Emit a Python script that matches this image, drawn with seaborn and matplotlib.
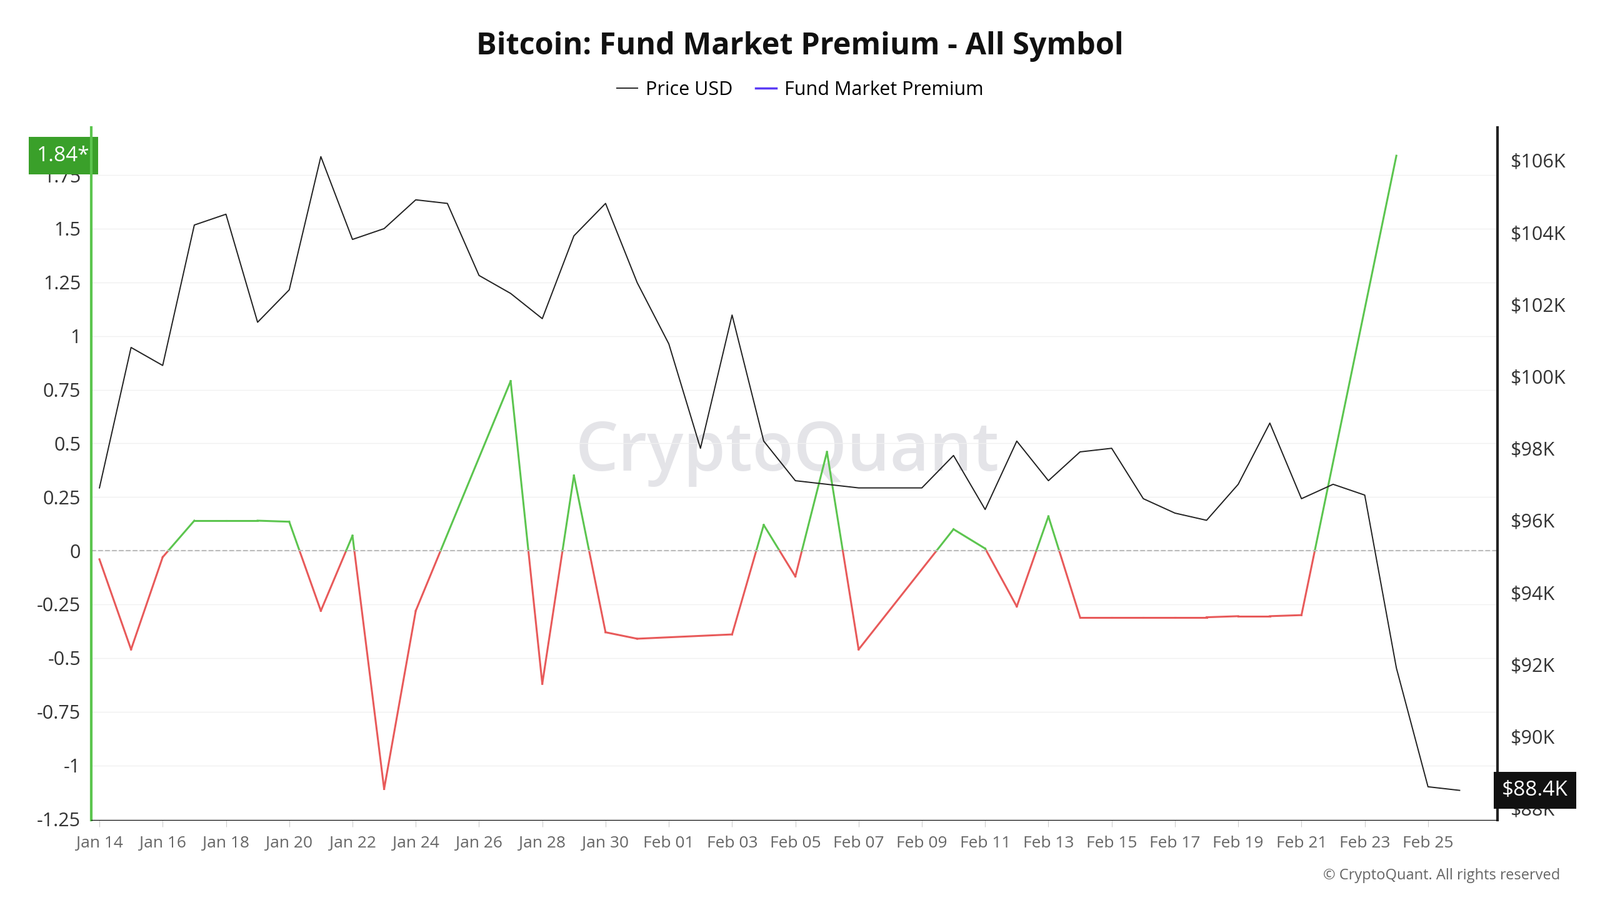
import numpy as np
import pandas as pd
import matplotlib
matplotlib.use("Agg")
import matplotlib.pyplot as plt
import matplotlib.dates as mdates
import seaborn as sns

plt.rcParams["font.family"] = "Open Sans"

dates = pd.date_range("2025-01-14", "2025-02-26", freq="D")
price_k = [96.9, 100.8, 100.3, 104.2, 104.5, 101.5, 102.4, 106.1, 103.8, 104.1,
           104.9, 104.8, 102.8, 102.3, 101.6, 103.9, 104.8, 102.6, 100.9, 98.0,
           101.7, 98.2, 97.1, 97.0, 96.9, 96.9, 96.9, 97.8, 96.3, 98.2,
           97.1, 97.9, 98.0, 96.6, 96.2, 96.0, 97.0, 98.7, 96.6, 97.0,
           96.7, 91.9, 88.6, 88.5]
nan = np.nan
premium = [-0.04, -0.46, -0.03, 0.14, 0.14, 0.14, 0.135, -0.28, 0.07, -1.11,
           -0.28, nan, nan, 0.79, -0.62, 0.35, -0.38, -0.41, nan, nan,
           -0.39, 0.12, -0.12, 0.46, -0.46, nan, nan, 0.10, 0.01, -0.26,
           0.16, -0.31, -0.31, -0.31, -0.31, -0.31, -0.305, -0.305, -0.30, nan,
           nan, 1.84, nan, nan]

df = pd.DataFrame({"date": dates, "price": price_k, "premium": premium})

fig = plt.figure(figsize=(25.6, 14.4), dpi=100)
ax = fig.add_axes([0.057, 0.089, 0.879, 0.769])
ax2 = ax.twinx()

# watermark behind everything
ax.text(0.495, 0.53, "CryptoQuant", transform=ax.transAxes, ha="center", va="center",
        fontsize=78, color="#e4e4e8", fontweight="semibold", zorder=0)

# premium: green above zero, red below
p = df.dropna(subset=["premium"])
x = mdates.date2num(p["date"])
y = p["premium"].values
for i in range(len(x) - 1):
    x0, x1, y0, y1 = x[i], x[i + 1], y[i], y[i + 1]
    if (y0 >= 0) == (y1 >= 0):
        ax.plot([x0, x1], [y0, y1], color="#5cc54f" if y0 >= 0 else "#e85a5a", lw=2.2)
    else:
        xc = x0 + (x1 - x0) * (0 - y0) / (y1 - y0)
        ax.plot([x0, xc], [y0, 0], color="#5cc54f" if y0 >= 0 else "#e85a5a", lw=2.2)
        ax.plot([xc, x1], [0, y1], color="#5cc54f" if y1 >= 0 else "#e85a5a", lw=2.2)
ax.axhline(0, color="#bbbbbb", ls="--", lw=1.5)

sns.lineplot(data=df, x="date", y="price", ax=ax2, color="#222222", lw=1.4)

x0 = mdates.date2num(pd.Timestamp("2025-01-14"))
ax.set_xlim(x0 - 0.26, x0 + 44.2)
ax.set_ylim(-1.254, 1.97)
ax2.set_ylim(87.68, 106.9)

ax.set_yticks([-1.25, -1, -0.75, -0.5, -0.25, 0, 0.25, 0.5, 0.75, 1, 1.25, 1.5, 1.75])
ax.set_yticklabels(["-1.25", "-1", "-0.75", "-0.5", "-0.25", "0", "0.25", "0.5", "0.75",
                    "1", "1.25", "1.5", "1.75"], fontsize=22, color="#333333")
ax2.set_yticks([88, 90, 92, 94, 96, 98, 100, 102, 104, 106])
ax2.set_yticklabels([f"${v}K" for v in [88, 90, 92, 94, 96, 98, 100, 102, 104, 106]],
                    fontsize=22, color="#333333")
ax2.set_ylabel("")
ax2.set_xlabel("")
tick_dates = pd.date_range("2025-01-14", "2025-02-25", freq="2D")
ax.set_xticks(mdates.date2num(tick_dates))
ax.set_xticklabels([d.strftime("%b %d") for d in tick_dates], fontsize=19, color="#666666")
ax.tick_params(axis="x", length=8, color="#cccccc", pad=10)
ax.tick_params(axis="y", length=0, pad=12)
ax2.tick_params(axis="y", length=0, pad=14)
ax.grid(axis="y", color="#f0f0f0", lw=1)
ax.set_axisbelow(True)

for a in (ax, ax2):
    a.spines["top"].set_visible(False)
    a.spines["left"].set_visible(False)
    a.spines["right"].set_visible(False)
ax.spines["bottom"].set_color("#cccccc")
ax2.spines["left"].set_visible(True)
ax2.spines["left"].set_color("#5cc54f")
ax2.spines["left"].set_linewidth(3)
ax2.spines["right"].set_visible(True)
ax2.spines["right"].set_color("#222222")
ax2.spines["right"].set_linewidth(3)

ax.text(-0.001, 1.84, "1.84*", transform=ax.get_yaxis_transform(), ha="right", va="center",
        fontsize=24, color="white",
        bbox=dict(boxstyle="square,pad=0.4", fc="#3aa02a", ec="none"))
ax2.text(1.003, price_k[-1], "$88.4K", transform=ax2.get_yaxis_transform(), ha="left",
         va="center", fontsize=24, color="white",
         bbox=dict(boxstyle="square,pad=0.4", fc="#111111", ec="none"))

fig.text(0.5, 0.948, "Bitcoin: Fund Market Premium - All Symbol", ha="center", va="center",
         fontsize=35, fontweight="bold", color="#111111")
fig.legend(handles=[plt.Line2D([], [], color="#333333", lw=1.5),
                    plt.Line2D([], [], color="#5b3cf5", lw=2.5)],
           labels=["Price USD", "Fund Market Premium"], loc="center",
           bbox_to_anchor=(0.5, 0.9), ncol=2, frameon=False, fontsize=22,
           handlelength=1.1, columnspacing=1.2, handletextpad=0.4)
fig.text(0.975, 0.027, "© CryptoQuant. All rights reserved", ha="right", va="center",
         fontsize=17, color="#666666")

fig.savefig("out.png", dpi=100)
